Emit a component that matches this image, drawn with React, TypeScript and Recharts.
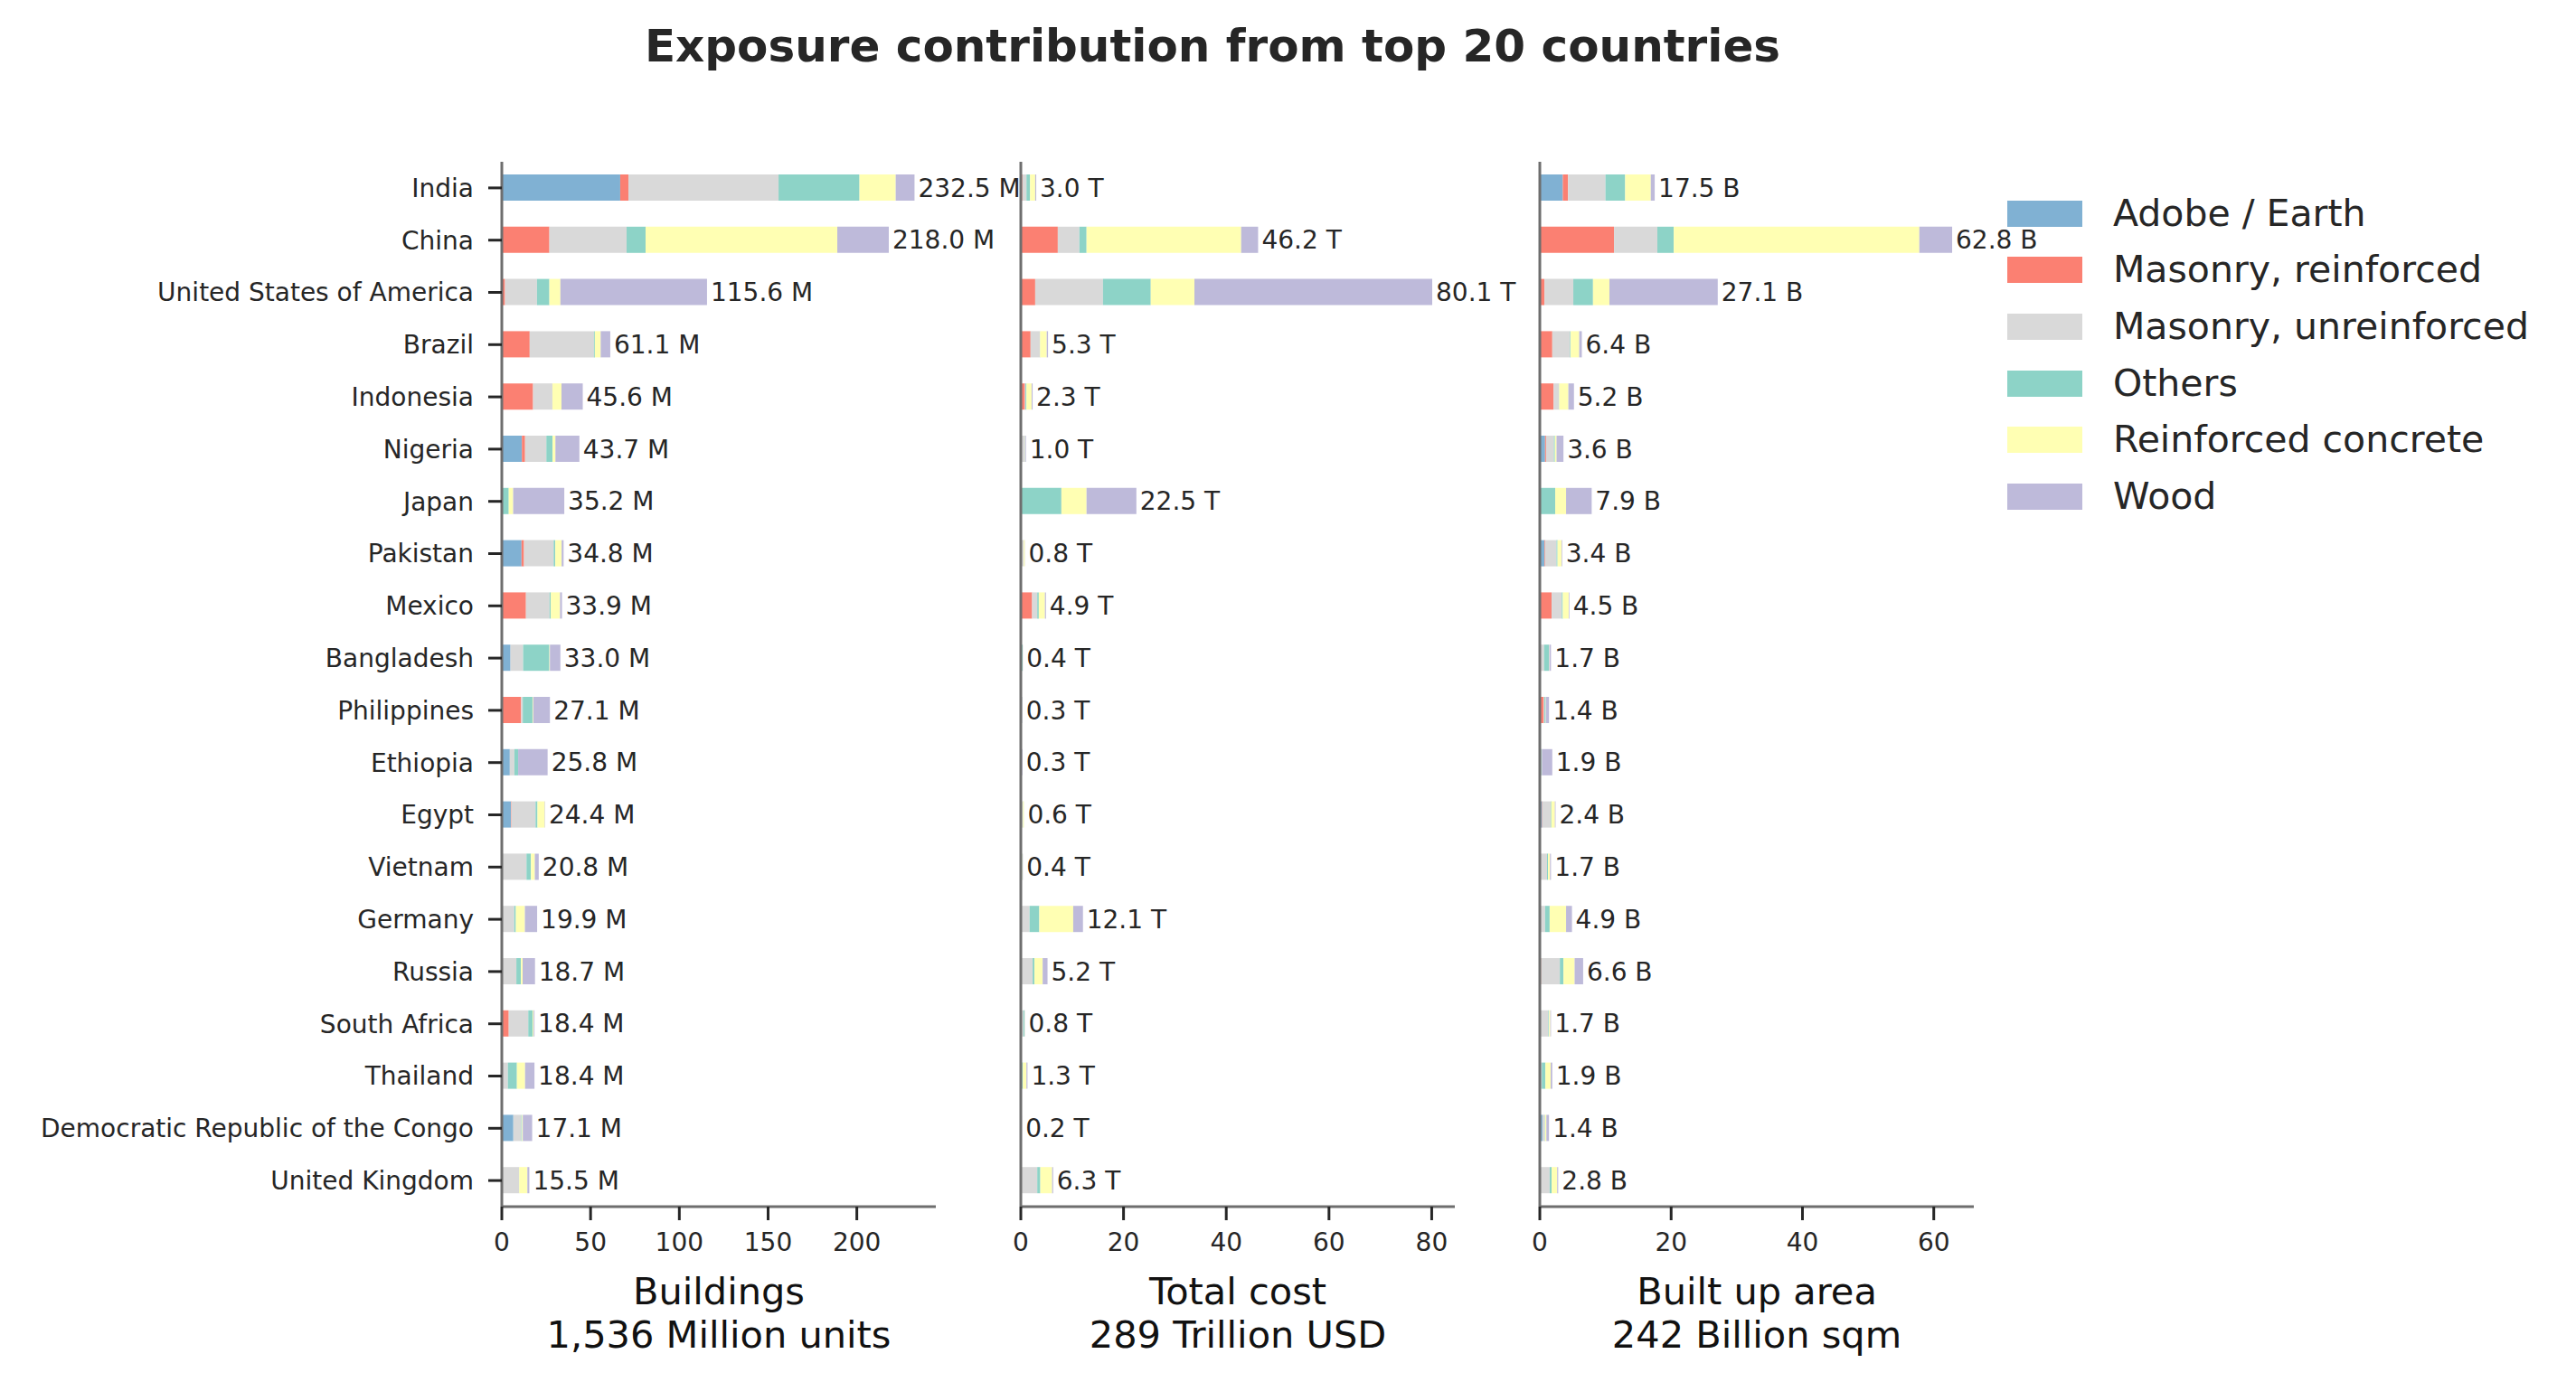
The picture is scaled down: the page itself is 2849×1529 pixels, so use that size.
import React from 'react'
import { BarChart, Bar, XAxis, YAxis, LabelList, Legend } from 'recharts'

const countries = [
  'India', 'China', 'United States of America', 'Brazil', 'Indonesia', 'Nigeria', 'Japan',
  'Pakistan', 'Mexico', 'Bangladesh', 'Philippines', 'Ethiopia', 'Egypt', 'Vietnam',
  'Germany', 'Russia', 'South Africa', 'Thailand', 'Democratic Republic of the Congo', 'United Kingdom',
]

const materials = ['Adobe / Earth', 'Masonry, reinforced', 'Masonry, unreinforced', 'Others', 'Reinforced concrete', 'Wood']
const materialKeys = ['adobe', 'mr', 'mu', 'others', 'rc', 'wood']
const materialColors = ['#80b1d3', '#fb8072', '#d9d9d9', '#8dd3c7', '#ffffb3', '#bebada']

// Buildings, million units
const bldAdobe = [66.7, 0, 0, 0, 0, 11.3, 0, 11.1, 0, 4.9, 0, 4.5, 5.1, 0, 0, 0, 0, 0, 6.5, 0]
const bldMasonryR = [4.6, 26.8, 1.8, 15.7, 17.6, 1.8, 0, 1.4, 13.6, 0, 10.9, 0, 0.3, 0, 0, 0, 3.9, 0, 0, 0]
const bldMasonryU = [84.6, 43.5, 18.0, 36.2, 10.9, 12.0, 0, 16.7, 13.3, 7.1, 0.9, 2.6, 13.6, 13.9, 7.0, 8.2, 11.0, 3.4, 4.5, 9.7]
const bldOthers = [45.6, 10.7, 7.0, 0.5, 0, 3.5, 3.9, 0.9, 0.7, 14.8, 5.5, 2.1, 1.1, 2.5, 0.9, 2.6, 2.5, 5.1, 0.4, 0.1]
const bldConcrete = [20.4, 108.0, 6.2, 3.3, 5.1, 1.6, 2.5, 3.6, 5.2, 0.3, 0.4, 0, 4.1, 2.2, 5.1, 0.9, 0.5, 4.6, 0.4, 4.6]
const bldWood = [10.6, 29.0, 82.6, 5.4, 12.0, 13.5, 28.8, 1.1, 1.1, 5.9, 9.4, 16.6, 0.2, 2.2, 6.9, 7.0, 0.5, 5.3, 5.3, 1.1]
const bldTotals = [232.5, 218.0, 115.6, 61.1, 45.6, 43.7, 35.2, 34.8, 33.9, 33.0, 27.1, 25.8, 24.4, 20.8, 19.9, 18.7, 18.4, 18.4, 17.1, 15.5]

// Total cost, trillion USD
const costAdobe = [0.1, 0, 0, 0, 0, 0.1, 0, 0.1, 0, 0.05, 0, 0.04, 0.05, 0, 0, 0, 0, 0, 0.05, 0]
const costMasonryR = [0.2, 7.2, 2.8, 1.9, 0.8, 0.05, 0, 0.05, 2.2, 0.02, 0.12, 0, 0.02, 0, 0, 0.05, 0.1, 0, 0, 0]
const costMasonryU = [0.8, 4.2, 13.2, 1.8, 0.1, 0.6, 0, 0.4, 1.0, 0.1, 0.03, 0.05, 0.3, 0.25, 1.7, 2.25, 0.4, 0.2, 0.05, 3.2]
const costOthers = [0.7, 1.4, 9.3, 0.05, 0.2, 0.05, 7.9, 0.02, 0.3, 0.18, 0.06, 0.04, 0.05, 0.05, 1.9, 0.35, 0.2, 0.2, 0.02, 0.6]
const costConcrete = [1.0, 30.1, 8.5, 1.3, 1.0, 0.05, 4.9, 0.2, 1.2, 0.02, 0.02, 0.02, 0.17, 0.06, 6.6, 1.6, 0.05, 0.7, 0.01, 2.3]
const costWood = [0.2, 3.3, 46.3, 0.25, 0.2, 0.15, 9.7, 0.03, 0.2, 0.03, 0.07, 0.15, 0.01, 0.04, 1.9, 0.95, 0.05, 0.2, 0.07, 0.2]
const costTotals = [3.0, 46.2, 80.1, 5.3, 2.3, 1.0, 22.5, 0.8, 4.9, 0.4, 0.3, 0.3, 0.6, 0.4, 12.1, 5.2, 0.8, 1.3, 0.2, 6.3]

// Built up area, billion sqm
const areaAdobe = [3.5, 0, 0, 0, 0, 0.8, 0, 0.7, 0, 0.1, 0, 0.1, 0.35, 0, 0, 0, 0, 0.05, 0.4, 0]
const areaMasonryR = [0.8, 11.3, 0.7, 1.9, 2.1, 0.15, 0, 0.1, 1.8, 0.05, 0.6, 0, 0.05, 0, 0, 0.2, 0.1, 0.1, 0, 0]
const areaMasonryU = [5.7, 6.6, 4.4, 2.7, 0.8, 1.2, 0.05, 1.75, 1.55, 0.5, 0.1, 0.1, 1.25, 1.1, 0.8, 2.85, 1.2, 0.15, 0.35, 1.5]
const areaOthers = [3.0, 2.5, 3.0, 0.1, 0.05, 0.15, 2.3, 0.15, 0.15, 0.75, 0.15, 0.1, 0.1, 0.15, 0.7, 0.55, 0.1, 0.55, 0.05, 0.3]
const areaConcrete = [3.9, 37.4, 2.5, 1.3, 1.4, 0.25, 1.65, 0.6, 0.9, 0.05, 0.05, 0.02, 0.55, 0.3, 2.5, 1.7, 0.2, 0.8, 0.2, 0.85]
const areaWood = [0.6, 5.0, 16.5, 0.4, 0.85, 1.05, 3.9, 0.1, 0.1, 0.25, 0.5, 1.58, 0.1, 0.15, 0.9, 1.3, 0.1, 0.25, 0.4, 0.15]
const areaTotals = [17.5, 62.8, 27.1, 6.4, 5.2, 3.6, 7.9, 3.4, 4.5, 1.7, 1.4, 1.9, 2.4, 1.7, 4.9, 6.6, 1.7, 1.9, 1.4, 2.8]

const bldTicks = [0, 50, 100, 150, 200]
const costTicks = [0, 20, 40, 60, 80]
const areaTicks = [0, 20, 40, 60]
const minorTicks = [2.5, 7.5, 12.5, 17.5]

const buildRows = (cols: number[][], totals: number[]) =>
  countries.map((country, i) => {
    const row: any = { country, total: totals[i] }
    materialKeys.forEach((k, j) => { row[k] = cols[j][i] })
    return row
  })

const bldRows = buildRows([bldAdobe, bldMasonryR, bldMasonryU, bldOthers, bldConcrete, bldWood], bldTotals)
const costRows = buildRows([costAdobe, costMasonryR, costMasonryU, costOthers, costConcrete, costWood], costTotals)
const areaRows = buildRows([areaAdobe, areaMasonryR, areaMasonryU, areaOthers, areaConcrete, areaWood], areaTotals)

const H = 1529
const TOP = 179
const XH = 194
const TEXT = '#262626'
const spine = { stroke: '#6e6e6e', strokeWidth: 3 }
const tickStroke = { stroke: '#262626', strokeWidth: 3 }

const AxisTitle = (props: any) => {
  const { viewBox, lines } = props
  if (!viewBox) return null
  const cx = viewBox.x + viewBox.width / 2
  return (
    <text textAnchor="middle" fontSize={41.5} fill="#111">
      <tspan x={cx} y={viewBox.y + 108}>{lines[0]}</tspan>
      <tspan x={cx} y={viewBox.y + 156}>{lines[1]}</tspan>
    </text>
  )
}

const endLabel = (unit: string) => (props: any) => {
  const { x, y, width, height, value } = props
  return (
    <text x={Number(x) + Number(width) + 4} y={Number(y) + Number(height) / 2} dy="0.36em" fontSize={28} fill={TEXT}>
      {Number(value).toFixed(1)} {unit}
    </text>
  )
}

const LegendBox = (props: any) => (
  <div>
    {(props.payload || []).map((p: any) => (
      <div key={p.value} style={{ display: 'flex', alignItems: 'center', height: 62.6 }}>
        <div style={{ width: 83, height: 29, background: p.color, marginRight: 34 }} />
        <span style={{ fontSize: 41, color: TEXT, lineHeight: 1, whiteSpace: 'nowrap' }}>{p.value}</span>
      </div>
    ))}
  </div>
)

interface PanelProps {
  left: number
  width: number
  yWidth: number
  right: number
  rows: any[]
  max: number
  ticks: number[]
  unit: string
  title: string[]
  names?: boolean
  legend?: boolean
}

const Panel = ({ left, width, yWidth, right, rows, max, ticks, unit, title, names, legend }: PanelProps) => (
  <div style={{ position: 'absolute', left, top: 0 }}>
    <BarChart width={width} height={H} data={rows} layout="vertical"
      margin={{ top: TOP, right, bottom: 0, left: 0 }}>
      <XAxis type="number" domain={[0, max]} ticks={ticks} interval={0} height={XH}
        tickSize={15} tickMargin={14} axisLine={spine} tickLine={tickStroke}
        tick={{ fontSize: 28, fill: TEXT }}
        label={<AxisTitle lines={title} />} />
      <YAxis type="category" dataKey="country" width={yWidth} interval={0}
        tickSize={15} tickMargin={16} axisLine={spine} tickLine={tickStroke}
        tick={names ? { fontSize: 28, fill: TEXT } : false} />
      <YAxis yAxisId="minor" type="number" domain={[-0.5, 19.5]} reversed mirror
        ticks={minorTicks} interval={0} tickSize={-8} tick={false} axisLine={false}
        tickLine={{ stroke: '#262626', strokeWidth: 1.5 }} />
      {materialKeys.map((k, j) => (
        <Bar key={k} dataKey={k} name={materials[j]} stackId="s" fill={materialColors[j]}
          barSize={29} isAnimationActive={false}>
          {k === 'wood' && <LabelList dataKey="total" content={endLabel(unit)} />}
        </Bar>
      ))}
      {legend && (
        <Legend layout="vertical" align="center" verticalAlign="middle" content={<LegendBox />}
          wrapperStyle={{ left: 2220 - left, top: 205, width: 'auto' }} />
      )}
    </BarChart>
  </div>
)

export default function App() {
  return (
    <div style={{ position: 'absolute', left: 0, top: 0, width: 2849, height: H, background: '#fff',
      fontFamily: '"DejaVu Sans", sans-serif', overflow: 'hidden' }}>
      <div style={{ position: 'absolute', left: 0, top: 26, width: 2682, textAlign: 'center',
        fontSize: 50, lineHeight: '50px', fontWeight: 'bold', color: TEXT }}>
        Exposure contribution from top 20 countries
      </div>
      <Panel left={0} width={1200} yWidth={555} right={165} rows={bldRows} max={244.5}
        ticks={bldTicks} unit="M" title={['Buildings', '1,536 Million units']} names />
      <Panel left={1100} width={650} yWidth={29} right={141} rows={costRows} max={84.5}
        ticks={costTicks} unit="T" title={['Total cost', '289 Trillion USD']} />
      <Panel left={1674} width={1175} yWidth={29} right={666} rows={areaRows} max={66.1}
        ticks={areaTicks} unit="B" title={['Built up area', '242 Billion sqm']} legend />
    </div>
  )
}
